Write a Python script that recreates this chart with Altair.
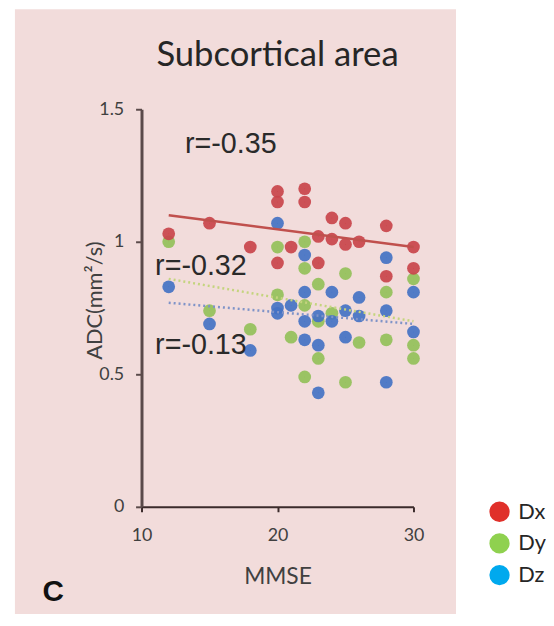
import altair as alt
import pandas as pd

# ---- data ----
series_names = ["Dx", "Dy", "Dz"]

dx_mmse = [12, 15, 18, 20, 20, 20, 21, 22, 22, 23, 23, 24, 24, 25, 25, 26, 28, 28, 30, 30]
dx_adc = [1.03, 1.07, 0.98, 1.19, 1.15, 0.92, 0.98, 1.20, 1.15, 1.02, 0.92, 1.09, 1.01, 1.07, 0.99, 1.00, 1.06, 0.87, 0.98, 0.90]

dy_mmse = [12, 15, 18, 20, 20, 21, 22, 22, 22, 22, 23, 23, 23, 24, 25, 25, 26, 28, 28, 30, 30, 30]
dy_adc = [1.00, 0.74, 0.67, 0.98, 0.80, 0.64, 1.00, 0.90, 0.76, 0.49, 0.84, 0.70, 0.56, 0.73, 0.88, 0.47, 0.62, 0.81, 0.63, 0.86, 0.61, 0.56]

dz_mmse = [12, 15, 18, 20, 20, 20, 21, 22, 22, 22, 22, 23, 23, 23, 24, 24, 25, 25, 26, 26, 28, 28, 28, 30, 30]
dz_adc = [0.83, 0.69, 0.59, 1.07, 0.75, 0.73, 0.76, 0.95, 0.81, 0.70, 0.63, 0.72, 0.61, 0.43, 0.81, 0.70, 0.74, 0.64, 0.79, 0.72, 0.94, 0.74, 0.47, 0.81, 0.66]

# trend line end points
trend_series = ["Dx", "Dx", "Dy", "Dy", "Dz", "Dz"]
trend_mmse = [12, 30, 12, 30, 12, 30]
trend_adc = [1.10, 0.98, 0.86, 0.70, 0.77, 0.69]

r_labels = ["r=-0.35", "r=-0.32", "r=-0.13"]
r_mmse = [13.2, 11.0, 11.0]
r_adc = [1.37, 0.91, 0.61]

x_ticks = [10, 20, 30]
y_ticks = [0, 0.5, 1, 1.5]

point_colors = ["#c9444b", "#94c05a", "#4472c4"]
legend_colors = ["#e0302a", "#8fd14f", "#00a9ee"]
line_colors = ["#c0504d", "#c4d47e", "#7f93c8"]

# ---- tables ----
rows = []
for name, xs, ys in [("Dy", dy_mmse, dy_adc), ("Dz", dz_mmse, dz_adc), ("Dx", dx_mmse, dx_adc)]:
    for a, b in zip(xs, ys):
        rows.append({"series": name, "MMSE": a, "ADC": b})
points_df = pd.DataFrame(rows)
trend_df = pd.DataFrame({"series": trend_series, "MMSE": trend_mmse, "ADC": trend_adc})
r_df = pd.DataFrame({"label": r_labels, "MMSE": r_mmse, "ADC": r_adc})

FONT = "Lato"
TXT = "#404040"

xscale = alt.Scale(domain=[10, 30], nice=False, zero=False)
yscale = alt.Scale(domain=[0, 1.5], nice=False)

x_axis = alt.Axis(values=x_ticks, title="MMSE", grid=False, labelFont=FONT, labelFontSize=18,
                  labelColor=TXT, labelFlush=False, labelOverlap=False,
                  titleFont=FONT, titleFontSize=23, titleFontWeight="normal",
                  titleColor=TXT, domainColor="#3b2b2b", domainWidth=2, tickColor="#3b2b2b",
                  tickWidth=2, tickSize=5, labelPadding=15, titleX=137.5, titleY=71,
                  titleBaseline="middle", titleAlign="center", zindex=1)
y_axis = alt.Axis(values=y_ticks, format="~g", title="ADC(mm²/s)", grid=False, labelFont=FONT,
                  labelFontSize=18, labelColor=TXT, labelFlush=False, labelOverlap=False,
                  titleFont=FONT, titleFontSize=22,
                  titleFontWeight="normal", titleColor=TXT, domainColor="#5a4a4a", domainWidth=3,
                  tickColor="#5a4a4a", tickWidth=2, tickSize=6, labelPadding=12, titleX=-47,
                  titleY=193, titleAngle=270, titleAlign="center", titleBaseline="middle", zindex=1)

bg = alt.Chart(alt.Data(values=[{"a": 1}])).mark_rect(color="#f2dcdb").encode(
    x=alt.value(-128), x2=alt.value(318), y=alt.value(-101), y2=alt.value(516)
)

legend_layer = alt.Chart(points_df).mark_circle(size=1, opacity=1).encode(
    x=alt.X("MMSE:Q", scale=xscale, axis=x_axis),
    y=alt.Y("ADC:Q", scale=yscale, axis=y_axis),
    fill=alt.Fill("series:N", scale=alt.Scale(domain=series_names, range=legend_colors),
                  legend=alt.Legend(title=None, orient="none", legendX=351, legendY=396,
                                    symbolType="circle", symbolSize=420, symbolOpacity=1,
                                    symbolStrokeWidth=0, labelFont=FONT, labelFontSize=22,
                                    labelColor="#262626", rowPadding=10, labelOffset=8,
                                    zindex=1)),
)

pts = alt.Chart(points_df).mark_circle(size=165, opacity=0.92).encode(
    x=alt.X("MMSE:Q", scale=xscale),
    y=alt.Y("ADC:Q", scale=yscale),
    color=alt.Color("series:N", scale=alt.Scale(domain=series_names, range=point_colors), legend=None),
)

trend_dx = alt.Chart(trend_df[trend_df.series == "Dx"]).mark_line(color=line_colors[0], strokeWidth=2.5).encode(
    x=alt.X("MMSE:Q", scale=xscale), y=alt.Y("ADC:Q", scale=yscale)
)
trend_dy = alt.Chart(trend_df[trend_df.series == "Dy"]).mark_line(color=line_colors[1], strokeWidth=2.5, strokeDash=[2, 3]).encode(
    x=alt.X("MMSE:Q", scale=xscale), y=alt.Y("ADC:Q", scale=yscale)
)
trend_dz = alt.Chart(trend_df[trend_df.series == "Dz"]).mark_line(color=line_colors[2], strokeWidth=2.5, strokeDash=[2, 3]).encode(
    x=alt.X("MMSE:Q", scale=xscale), y=alt.Y("ADC:Q", scale=yscale)
)

r_text = alt.Chart(r_df).mark_text(align="left", baseline="middle", font="Liberation Sans",
                                    fontSize=29, color="#2a2a2a").encode(
    x=alt.X("MMSE:Q", scale=xscale), y=alt.Y("ADC:Q", scale=yscale), text="label:N"
)

title_text = alt.Chart(alt.Data(values=[{"t": "Subcortical area"}])).mark_text(
    align="center", baseline="alphabetic", font=FONT, fontSize=35, color="#262626"
).encode(x=alt.value(137.5), y=alt.value(-44), text="t:N")

panel_text = alt.Chart(alt.Data(values=[{"t": "C"}])).mark_text(
    align="left", baseline="middle", font="Liberation Sans", fontSize=30, fontWeight="bold", color="#111111"
).encode(x=alt.value(-100), y=alt.value(488), text="t:N")

chart = alt.layer(bg, legend_layer, pts, trend_dx, trend_dy, trend_dz, r_text, title_text, panel_text).properties(
    width=275, height=402,
    autosize=alt.AutoSizeParams(type="none"),
    padding={"left": 135, "top": 99, "right": 134, "bottom": 105},
    background="white",
).configure_view(stroke=None)

chart.save("out.html", embed_options={"renderer": "svg", "actions": False})
